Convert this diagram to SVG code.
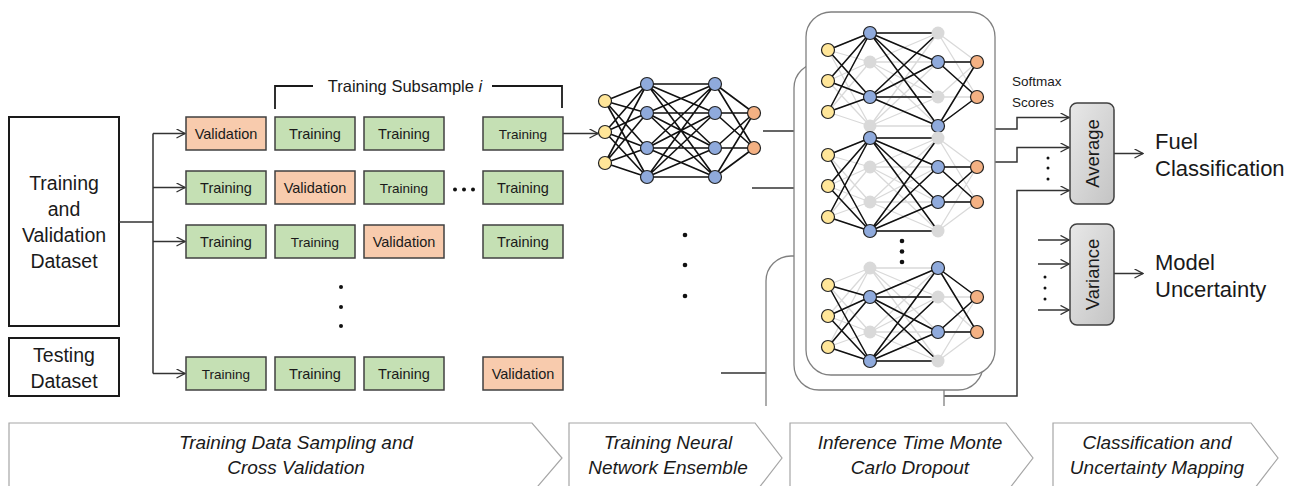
<svg xmlns="http://www.w3.org/2000/svg" xmlns:xlink="http://www.w3.org/1999/xlink" width="1293" height="486" viewBox="0 0 1293 486">
<style>
text{font-family:"Liberation Sans",Arial,sans-serif;fill:#1a1a1a}
.big{font-size:19.5px;text-anchor:middle}
.box{stroke:#404040;stroke-width:1.5}
.tr{fill:#c5e0b4}
.va{fill:#f8cbad}
.bt{font-size:14.5px;text-anchor:middle}
.bs{font-size:13.5px;text-anchor:middle}
.conn{fill:none;stroke:#333;stroke-width:1.5}
.arr{marker-end:url(#ah)}
.ni{fill:#ffe699;stroke:#222;stroke-width:1.2}
.nh{fill:#8faadc;stroke:#222;stroke-width:1.2}
.no{fill:#f4b183;stroke:#222;stroke-width:1.2}
.nx{fill:#d9d9d9}
.blk{fill:none;stroke:#111;stroke-width:1.5}
.panel{fill:#fff;stroke:#808080;stroke-width:1.3}
.gbox{fill:url(#gg);stroke:#404040;stroke-width:1.5}
.chev{fill:#fff;stroke:#a6a6a6;stroke-width:1.2}
.ct{font-size:19px;font-style:italic;text-anchor:middle}
.out{font-size:22px}
.dot{fill:#111}
</style>
<defs>
<marker id="ah" viewBox="0 0 10 10" refX="9.5" refY="5" markerWidth="10" markerHeight="10" markerUnits="userSpaceOnUse" orient="auto">
<path d="M1,0.5 L9.5,5 L1,9.5" fill="none" stroke="#333" stroke-width="1.4"/>
</marker>
<linearGradient id="gg" x1="0" y1="0" x2="1" y2="1">
<stop offset="0" stop-color="#e8e8e8"/>
<stop offset="1" stop-color="#c4c4c4"/>
</linearGradient>
<path id="nnEdges" fill="none" d="M0,17L42,0M0,17L42,29M0,17L42,64M0,17L42,93M0,48L42,0M0,48L42,29M0,48L42,64M0,48L42,93M0,79L42,0M0,79L42,29M0,79L42,64M0,79L42,93M42,0L110,0M42,0L110,29M42,0L110,64M42,0L110,93M42,29L110,0M42,29L110,29M42,29L110,64M42,29L110,93M42,64L110,0M42,64L110,29M42,64L110,64M42,64L110,93M42,93L110,0M42,93L110,29M42,93L110,64M42,93L110,93M110,0L149,29M110,0L149,64M110,29L149,29M110,29L149,64M110,64L149,29M110,64L149,64M110,93L149,29M110,93L149,64"/>
</defs>
<rect width="1293" height="486" fill="#fff"/>

<!-- bottom stage chevrons -->
<g id="stages">
<g id="stage1"><path class="chev" d="M9,423 H532 L562,458 L532,493 H9 Z"/>
<text class="ct" x="296" y="449">Training Data Sampling and</text>
<text class="ct" x="296" y="474">Cross Validation</text></g>
<g id="stage2"><path class="chev" d="M569,423 H755 L782,458 L755,493 H569 Z"/>
<text class="ct" x="668" y="449">Training Neural</text>
<text class="ct" x="668" y="474">Network Ensemble</text></g>
<g id="stage3"><path class="chev" d="M790,423 H1006 L1033,458 L1006,493 H790 Z"/>
<text class="ct" x="910" y="449">Inference Time Monte</text>
<text class="ct" x="910" y="474">Carlo Dropout</text></g>
<g id="stage4"><path class="chev" d="M1053,423 H1251 L1278,458 L1251,493 H1053 Z"/>
<text class="ct" x="1157" y="449">Classification and</text>
<text class="ct" x="1157" y="474">Uncertainty Mapping</text></g>
</g>

<!-- datasets -->
<g id="trainval"><rect x="9" y="117" width="110" height="209" fill="#fff" stroke="#1a1a1a" stroke-width="2"/>
<text class="big" x="64" y="190">Training</text>
<text class="big" x="64" y="216">and</text>
<text class="big" x="64" y="242">Validation</text>
<text class="big" x="64" y="268">Dataset</text></g>
<g id="testing"><rect x="9" y="338" width="110" height="58" fill="#fff" stroke="#1a1a1a" stroke-width="2"/>
<text class="big" x="64" y="362">Testing</text>
<text class="big" x="64" y="388">Dataset</text></g>

<!-- connectors -->
<g id="connectors">
<path class="conn" d="M119,222 H153 M153,133.5 V373.5"/>
<path class="conn arr" d="M153,133.5 H185"/>
<path class="conn arr" d="M153,187.5 H185"/>
<path class="conn arr" d="M153,241.5 H185"/>
<path class="conn arr" d="M153,373.5 H185"/>
<path class="conn arr" d="M563,133.5 H598"/>
<path fill="none" stroke="#1a1a1a" stroke-width="1.8" d="M275,109 V86 H313 M492,86 H562 V108"/>
<path class="conn" d="M763,131 H806 M752,188 H794 M721,373 H766"/>
<path class="conn arr" d="M995,129 H1017 V117.5 H1069"/>
<path class="conn arr" d="M995,162 H1017 V147.5 H1069"/>
<path class="conn arr" d="M944,396 H1017 V190.5 H1069"/>
<path class="conn arr" d="M1038,240 H1069"/>
<path class="conn arr" d="M1038,264 H1069"/>
<path class="conn arr" d="M1038,310 H1069"/>
<path class="conn arr" d="M1114,153.5 H1143"/>
<path class="conn arr" d="M1114,273.5 H1143"/>
</g>

<text x="405" y="92" style="font-size:16.5px;text-anchor:middle">Training Subsample <tspan font-style="italic">i</tspan></text>

<!-- grid of folds -->
<g id="row1">
<rect class="box va" x="186" y="117" width="80" height="33"/><text class="bt" x="226" y="138.5">Validation</text>
<rect class="box tr" x="275" y="117" width="80" height="33"/><text class="bt" x="315" y="138.5">Training</text>
<rect class="box tr" x="364" y="117" width="80" height="33"/><text class="bt" x="404" y="138.5">Training</text>
<rect class="box tr" x="483" y="117" width="80" height="33"/><text class="bs" x="523" y="138.5">Training</text>
</g>
<g id="row2">
<rect class="box tr" x="186" y="171" width="80" height="33"/><text class="bt" x="226" y="192.5">Training</text>
<rect class="box va" x="275" y="171" width="80" height="33"/><text class="bt" x="315" y="192.5">Validation</text>
<rect class="box tr" x="364" y="171" width="80" height="33"/><text class="bs" x="404" y="192.5">Training</text>
<rect class="box tr" x="483" y="171" width="80" height="33"/><text class="bt" x="523" y="192.5">Training</text>
<circle class="dot" cx="455" cy="189.5" r="2"/><circle class="dot" cx="464" cy="189.5" r="2"/><circle class="dot" cx="473" cy="189.5" r="2"/>
</g>
<g id="row3">
<rect class="box tr" x="186" y="225" width="80" height="33"/><text class="bt" x="226" y="246.5">Training</text>
<rect class="box tr" x="275" y="225" width="80" height="33"/><text class="bs" x="315" y="246.5">Training</text>
<rect class="box va" x="364" y="225" width="80" height="33"/><text class="bt" x="404" y="246.5">Validation</text>
<rect class="box tr" x="483" y="225" width="80" height="33"/><text class="bt" x="523" y="246.5">Training</text>
</g>
<g id="vdots1"><circle class="dot" cx="341" cy="287" r="2"/><circle class="dot" cx="341" cy="307" r="2"/><circle class="dot" cx="341" cy="326" r="2"/></g>
<g id="row4">
<rect class="box tr" x="186" y="357" width="80" height="33"/><text class="bs" x="226" y="378.5">Training</text>
<rect class="box tr" x="275" y="357" width="80" height="33"/><text class="bt" x="315" y="378.5">Training</text>
<rect class="box tr" x="364" y="357" width="80" height="33"/><text class="bt" x="404" y="378.5">Training</text>
<rect class="box va" x="483" y="357" width="80" height="33"/><text class="bt" x="523" y="378.5">Validation</text>
</g>

<!-- ensemble network -->
<g id="ensemble">
<use xlink:href="#nnEdges" href="#nnEdges" x="605" y="84" stroke="#111" stroke-width="1.6"/>
<circle class="ni" cx="605" cy="101" r="6.5"/><circle class="ni" cx="605" cy="132" r="6.5"/><circle class="ni" cx="605" cy="163" r="6.5"/>
<circle class="nh" cx="647" cy="84" r="6.5"/><circle class="nh" cx="647" cy="113" r="6.5"/><circle class="nh" cx="647" cy="148" r="6.5"/><circle class="nh" cx="647" cy="177" r="6.5"/>
<circle class="nh" cx="715" cy="84" r="6.5"/><circle class="nh" cx="715" cy="113" r="6.5"/><circle class="nh" cx="715" cy="148" r="6.5"/><circle class="nh" cx="715" cy="177" r="6.5"/>
<circle class="no" cx="754" cy="113" r="6.5"/><circle class="no" cx="754" cy="148" r="6.5"/>
</g>
<g id="vdots2"><circle class="dot" cx="685" cy="235" r="2.3"/><circle class="dot" cx="685" cy="265" r="2.3"/><circle class="dot" cx="685" cy="296" r="2.3"/></g>

<!-- MC dropout panels -->
<g id="panel3"><path class="panel" d="M766,406 V281 A25,25 0 0 1 791,256 H919 A25,25 0 0 1 944,281 V406"/></g>
<g id="panel2"><rect class="panel" x="794" y="63" width="189" height="327" rx="25"/></g>
<g id="panel1"><rect class="panel" x="806" y="12" width="189" height="363" rx="25"/>
<use xlink:href="#nnEdges" href="#nnEdges" x="828" y="33" stroke="#d9d9d9" stroke-width="1.3"/>
<use xlink:href="#nnEdges" href="#nnEdges" x="828" y="138" stroke="#d9d9d9" stroke-width="1.3"/>
<use xlink:href="#nnEdges" href="#nnEdges" x="828" y="268" stroke="#d9d9d9" stroke-width="1.3"/>
<path class="blk" d="M828,50L870,33M828,81L870,33M828,112L870,33M828,50L870,97M828,81L870,97M828,112L870,97M870,33L938,33M870,33L938,62M870,33L938,97M870,33L938,126M870,97L938,33M870,97L938,62M870,97L938,97M870,97L938,126M938,62L977,62M938,62L977,97M938,126L977,62M938,126L977,97"/>
<path class="blk" d="M828,155L870,138M828,186L870,138M828,217L870,138M828,155L870,231M828,186L870,231M828,217L870,231M870,138L938,138M870,138L938,167M870,138L938,202M870,138L938,231M870,231L938,138M870,231L938,167M870,231L938,202M870,231L938,231M938,167L977,167M938,167L977,202M938,202L977,167M938,202L977,202"/>
<path class="blk" d="M828,285L870,297M828,316L870,297M828,347L870,297M828,285L870,361M828,316L870,361M828,347L870,361M870,297L938,268M870,297L938,297M870,297L938,332M870,297L938,361M870,361L938,268M870,361L938,297M870,361L938,332M870,361L938,361M938,268L977,297M938,268L977,332M938,332L977,297M938,332L977,332"/>
<!-- top net -->
<circle class="ni" cx="828" cy="50" r="6.5"/><circle class="ni" cx="828" cy="81" r="6.5"/><circle class="ni" cx="828" cy="112" r="6.5"/>
<circle class="nh" cx="870" cy="33" r="6.5"/><circle class="nx" cx="870" cy="62" r="6.5"/><circle class="nh" cx="870" cy="97" r="6.5"/><circle class="nx" cx="870" cy="126" r="6.5"/>
<circle class="nx" cx="938" cy="33" r="6.5"/><circle class="nh" cx="938" cy="62" r="6.5"/><circle class="nx" cx="938" cy="97" r="6.5"/><circle class="nh" cx="938" cy="126" r="6.5"/>
<circle class="no" cx="977" cy="62" r="6.5"/><circle class="no" cx="977" cy="97" r="6.5"/>
<!-- middle net -->
<circle class="ni" cx="828" cy="155" r="6.5"/><circle class="ni" cx="828" cy="186" r="6.5"/><circle class="ni" cx="828" cy="217" r="6.5"/>
<circle class="nh" cx="870" cy="138" r="6.5"/><circle class="nx" cx="870" cy="167" r="6.5"/><circle class="nx" cx="870" cy="202" r="6.5"/><circle class="nh" cx="870" cy="231" r="6.5"/>
<circle class="nx" cx="938" cy="138" r="6.5"/><circle class="nh" cx="938" cy="167" r="6.5"/><circle class="nh" cx="938" cy="202" r="6.5"/><circle class="nx" cx="938" cy="231" r="6.5"/>
<circle class="no" cx="977" cy="167" r="6.5"/><circle class="no" cx="977" cy="202" r="6.5"/>
<!-- bottom net -->
<circle class="ni" cx="828" cy="285" r="6.5"/><circle class="ni" cx="828" cy="316" r="6.5"/><circle class="ni" cx="828" cy="347" r="6.5"/>
<circle class="nx" cx="870" cy="268" r="6.5"/><circle class="nh" cx="870" cy="297" r="6.5"/><circle class="nx" cx="870" cy="332" r="6.5"/><circle class="nh" cx="870" cy="361" r="6.5"/>
<circle class="nh" cx="938" cy="268" r="6.5"/><circle class="nx" cx="938" cy="297" r="6.5"/><circle class="nh" cx="938" cy="332" r="6.5"/><circle class="nx" cx="938" cy="361" r="6.5"/>
<circle class="no" cx="977" cy="297" r="6.5"/><circle class="no" cx="977" cy="332" r="6.5"/>
<circle class="dot" cx="902" cy="241" r="2.3"/><circle class="dot" cx="902" cy="251.5" r="2.3"/><circle class="dot" cx="902" cy="262" r="2.3"/>
</g>

<!-- aggregation -->
<text x="1012" y="86" style="font-size:13.5px">Softmax</text>
<text x="1012" y="107" style="font-size:13.5px">Scores</text>
<g id="avgdots"><circle class="dot" cx="1048" cy="158" r="1.5"/><circle class="dot" cx="1048" cy="168" r="1.5"/><circle class="dot" cx="1048" cy="179" r="1.5"/></g>
<g id="vardots"><circle class="dot" cx="1045" cy="277" r="1.5"/><circle class="dot" cx="1045" cy="288" r="1.5"/><circle class="dot" cx="1045" cy="299" r="1.5"/></g>
<g id="average"><rect class="gbox" x="1070" y="103" width="44" height="101" rx="7"/>
<text x="1099" y="153.5" transform="rotate(-90 1099 153.5)" style="font-size:18.5px;text-anchor:middle">Average</text></g>
<g id="variance"><rect class="gbox" x="1070" y="224" width="44" height="101" rx="7"/>
<text x="1099" y="274.5" transform="rotate(-90 1099 274.5)" style="font-size:18.5px;text-anchor:middle">Variance</text></g>
<g id="fuel"><text class="out" x="1155" y="149">Fuel</text><text class="out" x="1155" y="176">Classification</text></g>
<g id="uncert"><text class="out" x="1155" y="270">Model</text><text class="out" x="1155" y="297">Uncertainty</text></g>
</svg>
